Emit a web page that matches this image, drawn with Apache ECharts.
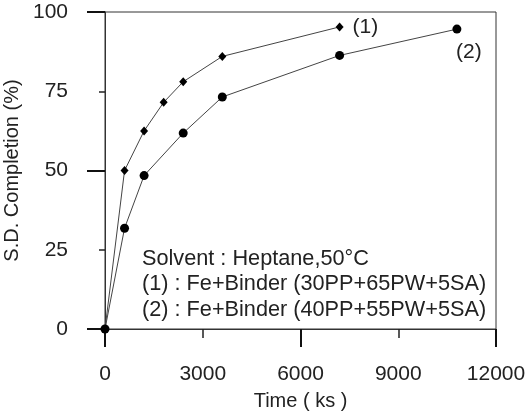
<!DOCTYPE html>
<html>
<head>
<meta charset="utf-8">
<script src="https://cdn.jsdelivr.net/npm/echarts@6/dist/echarts.min.js"></script>
<style>html,body{margin:0;padding:0;background:#fff;}#c{width:531px;height:412px;}</style>
</head>
<body>
<div id="c"></div>
<script>
var time1 = [0, 600, 1200, 1800, 2400, 3600, 7200];
var sd1 = [0, 50, 62.5, 71.5, 78, 86, 95.3];
var time2 = [0, 600, 1200, 2400, 3600, 7200, 10800];
var sd2 = [0, 31.8, 48.4, 61.8, 73.2, 86.3, 94.6];
var seriesTags = ['(1)', '(2)'];
var xTicks = [0, 3000, 6000, 9000, 12000];
var yTicks = [0, 25, 50, 75, 100];
var noteLines = ['Solvent : Heptane,50\u00B0C', '(1) : Fe+Binder (30PP+65PW+5SA)', '(2) : Fe+Binder (40PP+55PW+5SA)'];

var FONT = 'Liberation Sans, Arial, sans-serif';
var INK = '#222';

function pairs(xs, ys) { return xs.map(function (x, i) { return [x, ys[i]]; }); }
var d1 = pairs(time1, sd1);
var d2 = pairs(time2, sd2);
d1[d1.length - 1] = { value: d1[d1.length - 1], label: { show: true, formatter: seriesTags[0], position: 'right', distance: 9, fontSize: 21, color: INK, fontFamily: FONT } };
d2[d2.length - 1] = { value: d2[d2.length - 1], label: { show: true, formatter: seriesTags[1], position: 'bottom', distance: 8, offset: [12, 0], fontSize: 21, color: INK, fontFamily: FONT } };

var xMin = xTicks[0], xMax = xTicks[xTicks.length - 1];
var yMin = yTicks[0], yMax = yTicks[yTicks.length - 1];
var xStep = xTicks[1] - xTicks[0], yStep = yTicks[1] - yTicks[0];
function plain(v) { return String(v); }
var TICK = { color: '#222', width: 1.5 };
var MAJOR = { color: '#111', width: 2 };

var chart = echarts.init(document.getElementById('c'), null, { renderer: 'canvas' });
chart.setOption({
  backgroundColor: '#fff',
  animation: false,
  grid: { left: 105, top: 12, right: 35, bottom: 83, outerBoundsMode: 'none', containLabel: false, show: true, borderColor: '#333', borderWidth: 1, backgroundColor: 'transparent' },
  xAxis: {
    type: 'value', min: xMin, max: xMax, interval: xStep * 2,
    name: 'Time ( ks )', nameLocation: 'middle', nameGap: 62,
    nameTextStyle: { fontSize: 20, color: INK, fontFamily: FONT },
    axisLine: { show: true, onZero: false, lineStyle: { color: '#333', width: 1 } },
    axisTick: { show: true, inside: false, length: 18, lineStyle: MAJOR },
    minorTick: { show: true, splitNumber: 2, length: 9, lineStyle: TICK },
    axisLabel: { show: true, customValues: xTicks, margin: 35, fontSize: 21, color: INK, fontFamily: FONT, formatter: plain },
    splitLine: { show: false }, minorSplitLine: { show: false }
  },
  yAxis: {
    type: 'value', min: yMin, max: yMax, interval: yStep * 2,
    name: 'S.D. Completion (%)', nameLocation: 'middle', nameGap: 64, nameRotate: 90,
    nameTextStyle: { fontSize: 20, color: INK, fontFamily: FONT },
    axisLine: { show: true, onZero: false, lineStyle: { color: '#333', width: 1 } },
    axisTick: { show: true, inside: false, length: 18, lineStyle: MAJOR },
    minorTick: { show: true, splitNumber: 2, length: 6, lineStyle: TICK },
    axisLabel: { show: true, customValues: yTicks, margin: 37, fontSize: 21, color: INK, fontFamily: FONT, formatter: plain },
    splitLine: { show: false }, minorSplitLine: { show: false }
  },
  series: [{
    type: 'line', data: d1,
    symbol: 'diamond', symbolSize: [8, 9], showAllSymbol: true,
    lineStyle: { color: '#444', width: 1 }, itemStyle: { color: '#000' }
  }, {
    type: 'line', data: d2,
    symbol: 'circle', symbolSize: 9, showAllSymbol: true,
    lineStyle: { color: '#444', width: 1 }, itemStyle: { color: '#000' }
  }],
  graphic: noteLines.map(function (t, i) {
    return { type: 'text', left: 142, top: 248 + i * 25.5, style: { text: t, fill: INK, font: '21.7px ' + FONT } };
  })
});
</script>
</body>
</html>
